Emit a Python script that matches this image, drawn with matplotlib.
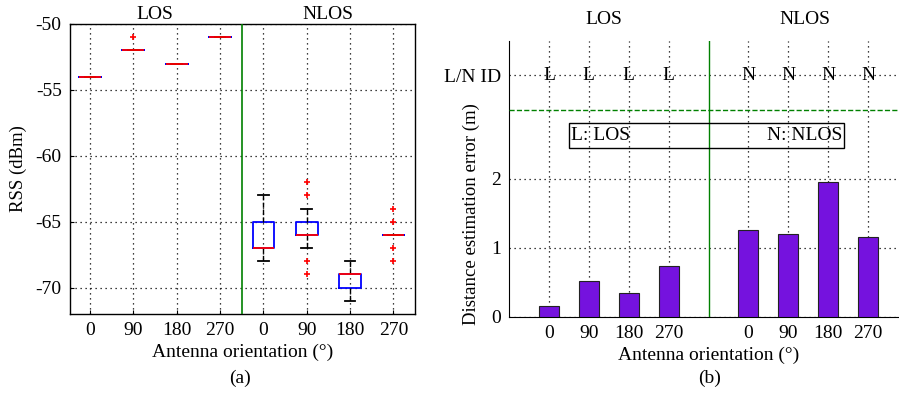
import matplotlib
matplotlib.use("Agg")
import matplotlib.pyplot as plt

plt.rcParams['font.family'] = ['Liberation Serif', 'DejaVu Serif']
plt.rcParams['font.size'] = 14

# ---- data ----
orient_labels = ['0', '90', '180', '270', '0', '90', '180', '270']
# box stats for RSS (dBm): LOS 0,90,180,270 then NLOS 0,90,180,270
rss_med = [-54, -52, -53, -51, -67, -66, -69, -66]
rss_q1 = [-54, -52, -53, -51, -67, -66, -70, -66]
rss_q3 = [-54, -52, -53, -51, -65, -65, -69, -66]
rss_whislo = [-54, -52, -53, -51, -68, -67, -71, -66]
rss_whishi = [-54, -52, -53, -51, -63, -64, -68, -66]
rss_fliers = [[], [-51], [], [], [], [-62, -63, -68, -69], [], [-64, -65, -67, -68]]

err_los = [0.15, 0.52, 0.34, 0.73]
err_nlos = [1.26, 1.20, 1.95, 1.16]
id_los = ['L', 'L', 'L', 'L']
id_nlos = ['N', 'N', 'N', 'N']

fig = plt.figure(figsize=(8.99, 3.93), dpi=100)

# ---- panel (a) ----
ax1 = fig.add_axes([0.0779, 0.201, 0.3838, 0.738])
stats = []
for i in range(8):
    stats.append(dict(med=rss_med[i], q1=rss_q1[i], q3=rss_q3[i],
                      whislo=rss_whislo[i], whishi=rss_whishi[i],
                      fliers=rss_fliers[i]))
pos1 = list(range(1, 9))
ax1.bxp(stats, positions=pos1, widths=0.5, showfliers=True,
        boxprops=dict(color='blue', linewidth=1.3),
        medianprops=dict(color='red', linewidth=1.3, zorder=6),
        whiskerprops=dict(color='black', linewidth=1.0, linestyle='--'),
        capprops=dict(color='black', linewidth=1.3),
        flierprops=dict(marker='+', markeredgecolor='red', markersize=4,
                        markeredgewidth=1.2, linestyle='none'),
        capwidths=0.25, zorder=3)
ax1.axvline(4.5, color='green', linewidth=1.2, zorder=4)
ax1.set_xlim(0.54, 8.5)
ax1.set_ylim(-72, -50)
ax1.set_yticks([-70, -65, -60, -55, -50])
ax1.set_yticklabels(['-70', '-65', '-60', '-55', '-50'])
ax1.set_xticks(pos1)
ax1.set_xticklabels(orient_labels)
ax1.grid(True, linestyle=(0, (1, 3)), color='black', linewidth=0.9)
ax1.tick_params(direction='in', length=3, pad=6)
ax1.set_ylabel('RSS (dBm)', fontsize=13.5)
ax1.yaxis.set_label_coords((27 - 70) / 345, 0.5)
ax1.set_xlabel('Antenna orientation (°)', labelpad=3)
for s in ax1.spines.values():
    s.set_linewidth(1.0)
ax1.text(2.5, 1.005, 'LOS', transform=ax1.get_xaxis_transform(), ha='center', va='bottom')
ax1.text(6.5, 1.005, 'NLOS', transform=ax1.get_xaxis_transform(), ha='center', va='bottom')
fig.text(240/899, 1-378/393, '(a)', ha='center', va='center', fontsize=14)

# ---- panel (b) ----
ax2 = fig.add_axes([0.5662, 0.1941, 0.4438, 0.7023])
pos_los = [1, 2, 3, 4]
pos_nlos = [6, 7, 8, 9]
ax2.bar(pos_los, err_los, width=0.5, color='#7512DE', edgecolor='#222222', linewidth=0.8, zorder=3)
ax2.bar(pos_nlos, err_nlos, width=0.5, color='#7512DE', edgecolor='#222222', linewidth=0.8, zorder=3)
for p, t in zip(pos_los, id_los):
    ax2.text(p, 3.5, t, ha='center', va='center', zorder=4)
for p, t in zip(pos_nlos, id_nlos):
    ax2.text(p, 3.5, t, ha='center', va='center', zorder=4)
ax2.axvline(5, color='green', linewidth=1.0, zorder=4)
ax2.axhline(3.0, color='green', linewidth=1.0, linestyle='--', zorder=4)
ax2.set_xlim(0, 10)
ax2.set_ylim(0, 4)
ax2.set_xticks(pos_los + pos_nlos)
ax2.set_xticklabels(orient_labels)
ax2.set_yticks([0, 1, 2, 3.5])
ax2.set_yticklabels(['0', '1', '2', 'L/N ID'])
ax2.grid(True, linestyle=(0, (1, 3)), color='black', linewidth=0.9)
ax2.tick_params(direction='in', length=0, pad=6)
ax2.spines['top'].set_visible(False)
ax2.spines['right'].set_visible(False)
ax2.set_ylabel('Distance estimation error (m)', fontsize=13.5)
ax2.yaxis.set_label_coords((480 - 509) / 399, (316.7 - 214) / 276)
ax2.set_xlabel('Antenna orientation (°)', labelpad=3)
ax2.text(1.55, 2.63, 'L: LOS', ha='left', va='center', zorder=5)
ax2.text(8.35, 2.63, 'N: NLOS', ha='right', va='center', zorder=5)
ax2.add_patch(plt.Rectangle((1.5, 2.45), 6.9, 0.36, fill=False, edgecolor='black', linewidth=1.0, zorder=5))
fig.text(604/899, 1-20/393, 'LOS', ha='center', va='center')
fig.text(805/899, 1-20/393, 'NLOS', ha='center', va='center')
fig.text(710/899, 1-378/393, '(b)', ha='center', va='center', fontsize=14)

fig.savefig('out.png', dpi=100)
